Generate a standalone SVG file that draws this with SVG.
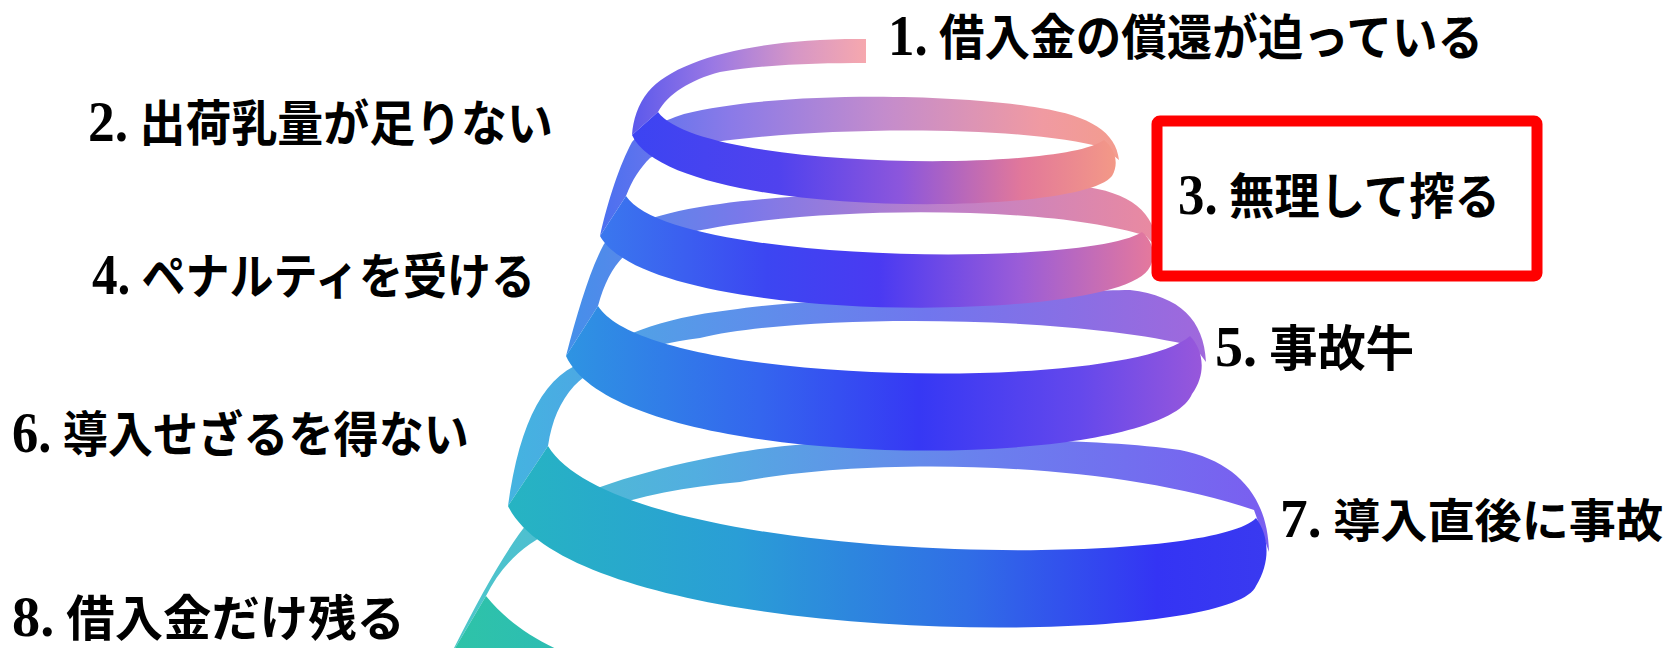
<svg xmlns="http://www.w3.org/2000/svg" width="1673" height="648" viewBox="0 0 1673 648">
<defs>
  <linearGradient id="gB1" gradientUnits="userSpaceOnUse" x1="630" y1="0" x2="866" y2="0">
    <stop offset="0" stop-color="#5a58ec"/><stop offset="0.35" stop-color="#9a78e4"/><stop offset="0.7" stop-color="#d696c6"/><stop offset="1" stop-color="#f6a8ae"/>
  </linearGradient>
  <linearGradient id="gB2" gradientUnits="userSpaceOnUse" x1="600" y1="0" x2="1119" y2="0">
    <stop offset="0" stop-color="#4a70f0"/><stop offset="0.25" stop-color="#8a7ae8"/><stop offset="0.55" stop-color="#c48ccc"/><stop offset="0.85" stop-color="#f09aa2"/><stop offset="1" stop-color="#f39c8e"/>
  </linearGradient>
  <linearGradient id="gB3" gradientUnits="userSpaceOnUse" x1="566" y1="0" x2="1157" y2="0">
    <stop offset="0" stop-color="#4490ea"/><stop offset="0.3" stop-color="#7a78ea"/><stop offset="0.65" stop-color="#c080c8"/><stop offset="1" stop-color="#ea8aa0"/>
  </linearGradient>
  <linearGradient id="gB4" gradientUnits="userSpaceOnUse" x1="508" y1="0" x2="1206" y2="0">
    <stop offset="0" stop-color="#44b4e0"/><stop offset="0.3" stop-color="#5a94ea"/><stop offset="0.6" stop-color="#7076ee"/><stop offset="1" stop-color="#a068dc"/>
  </linearGradient>
  <linearGradient id="gB5" gradientUnits="userSpaceOnUse" x1="448" y1="0" x2="1269" y2="0">
    <stop offset="0" stop-color="#4cc8c8"/><stop offset="0.3" stop-color="#52aee0"/><stop offset="0.65" stop-color="#6a80ee"/><stop offset="1" stop-color="#7a5ef0"/>
  </linearGradient>
  <linearGradient id="gF1" gradientUnits="userSpaceOnUse" x1="632" y1="0" x2="1120" y2="0">
    <stop offset="0" stop-color="#3c44f2"/><stop offset="0.3" stop-color="#5042ee"/><stop offset="0.55" stop-color="#8c56dc"/><stop offset="0.8" stop-color="#e2789a"/><stop offset="1" stop-color="#f49a86"/>
  </linearGradient>
  <linearGradient id="gF2" gradientUnits="userSpaceOnUse" x1="600" y1="0" x2="1158" y2="0">
    <stop offset="0" stop-color="#3a78ee"/><stop offset="0.3" stop-color="#3c46f2"/><stop offset="0.5" stop-color="#4a3af2"/><stop offset="0.75" stop-color="#9a5cd8"/><stop offset="1" stop-color="#e87a9a"/>
  </linearGradient>
  <linearGradient id="gF3" gradientUnits="userSpaceOnUse" x1="566" y1="0" x2="1208" y2="0">
    <stop offset="0" stop-color="#2e94e2"/><stop offset="0.3" stop-color="#3466ee"/><stop offset="0.55" stop-color="#3638f4"/><stop offset="0.8" stop-color="#6448ec"/><stop offset="1" stop-color="#9a58da"/>
  </linearGradient>
  <linearGradient id="gF4" gradientUnits="userSpaceOnUse" x1="508" y1="0" x2="1272" y2="0">
    <stop offset="0" stop-color="#26b4c2"/><stop offset="0.3" stop-color="#2a9ed6"/><stop offset="0.6" stop-color="#306ee6"/><stop offset="0.85" stop-color="#3434f4"/><stop offset="1" stop-color="#3a3af0"/>
  </linearGradient>
  <linearGradient id="gF5" gradientUnits="userSpaceOnUse" x1="440" y1="0" x2="700" y2="0">
    <stop offset="0" stop-color="#2ec4a6"/><stop offset="1" stop-color="#2cb4c4"/>
  </linearGradient>
</defs>
<style>
  .lbl { font-family: 'Liberation Serif', 'Noto Sans CJK JP', serif; font-weight: bold; font-size: 49px; fill: #000000; }
  .num { font-size: 57px; }
  .sm { font-size: 46px; }
  .sm .num { font-size: 54px; }
  .box { fill: none; stroke: #ff0000; stroke-width: 11; }
</style>
<rect x="0" y="0" width="1673" height="648" fill="#ffffff"/>

<g id="spiral">
  <g id="back-arcs">
    <path id="back-5" fill="url(#gB5)" d="M 1269,552 C 1268,500 1240,462 1180,450 C 1080,436 840,434 740,452 C 660,466 580,488 530,520 C 505,550 478,600 448,660 L 486,596 C 496,576 510,558 530,544 C 580,510 650,490 740,482 C 860,458 1100,458 1254,510 Z"/>
    <path id="back-4" fill="url(#gB4)" d="M 1206,362 C 1204,320 1180,296 1130,290 C 1040,292 820,296 730,310 C 660,318 610,338 590,360 C 545,372 520,420 508,506 L 548,446 C 552,420 560,402 574,386 C 600,360 640,346 700,338 C 800,314 1060,314 1194,346 Z"/>
    <path id="back-3" fill="url(#gB3)" d="M 1157,248 C 1156,212 1130,192 1080,186 C 1000,188 800,192 720,204 C 660,212 620,226 604,244 C 590,270 578,310 566,356 L 598,306 C 604,284 612,268 624,256 C 700,206 1030,198 1146,236 Z"/>
    <path id="back-2" fill="url(#gB2)" d="M 1119,160 C 1116,132 1090,116 1040,108 C 960,94 780,90 684,114 C 660,122 640,132 632,142 C 620,164 608,200 600,236 L 626,196 C 632,180 640,168 650,158 C 700,130 1000,118 1104,148 Z"/>
    <path id="back-1" fill="url(#gB1)" d="M 866,39 C 760,38 676,58 648,92 C 638,104 633,120 632,135 L 658,112 C 668,94 690,80 720,72 C 770,64 820,63 866,63 Z"/>
  </g>
  <g id="front-arcs">
    <path id="front-5" fill="url(#gF5)" d="M 486,596 C 530,650 600,670 700,690 L 700,700 L 440,700 L 448,660 Z"/>
    <path id="front-4" fill="url(#gF4)" d="M 548,446 C 620,566 1205,571 1256,518 C 1268,534 1272,560 1256,586 C 1230,650 580,652 508,506 Z"/>
    <path id="front-3" fill="url(#gF3)" d="M 598,306 C 650,388 1127,392 1190,336 C 1202,348 1208,372 1192,394 C 1160,474 620,476 566,356 Z"/>
    <path id="front-2" fill="url(#gF2)" d="M 626,196 C 670,264 1087,268 1142,232 C 1152,240 1158,256 1148,270 C 1110,324 650,326 600,236 Z"/>
    <path id="front-1" fill="url(#gF1)" d="M 658,112 C 700,170 1060,173 1104,140 C 1114,148 1120,162 1112,176 C 1080,218 670,220 632,135 Z"/>
  </g>
</g>

<g id="labels">
  <g id="label-1"><text class="lbl" x="888" y="55" textLength="595" lengthAdjust="spacingAndGlyphs"><tspan class="num">1.</tspan> 借入金の償還が迫っている</text></g>
  <g id="label-2"><text class="lbl" x="88" y="141" textLength="465" lengthAdjust="spacingAndGlyphs"><tspan class="num">2.</tspan> 出荷乳量が足りない</text></g>
  <g id="label-3">
    <rect class="box" x="1157" y="121" width="380" height="155" rx="3"/>
    <text class="lbl" x="1178" y="214" textLength="322" lengthAdjust="spacingAndGlyphs"><tspan class="num">3.</tspan> 無理して搾る</text>
  </g>
  <g id="label-4"><text class="lbl" x="92" y="294" textLength="443" lengthAdjust="spacingAndGlyphs"><tspan class="num">4.</tspan> ペナルティを受ける</text></g>
  <g id="label-5"><text class="lbl" x="1215" y="366" textLength="199" lengthAdjust="spacingAndGlyphs"><tspan class="num">5.</tspan> 事故牛</text></g>
  <g id="label-6"><text class="lbl" x="12" y="452" textLength="457" lengthAdjust="spacingAndGlyphs"><tspan class="num">6.</tspan> 導入せざるを得ない</text></g>
  <g id="label-7"><text class="lbl sm" x="1280" y="537" textLength="383" lengthAdjust="spacingAndGlyphs"><tspan class="num">7.</tspan> 導入直後に事故</text></g>
  <g id="label-8"><text class="lbl" x="12" y="636" textLength="393" lengthAdjust="spacingAndGlyphs"><tspan class="num">8.</tspan> 借入金だけ残る</text></g>
</g>
</svg>
